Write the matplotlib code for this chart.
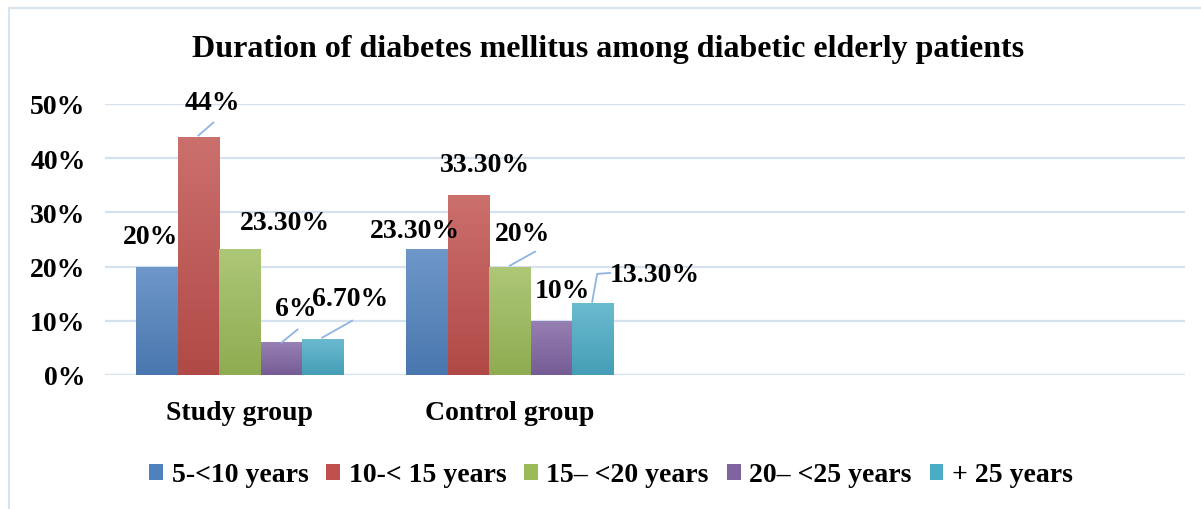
import numpy as np
import matplotlib.pyplot as plt
import matplotlib.transforms as mtransforms
from matplotlib.colors import to_rgb, LinearSegmentedColormap
from matplotlib.patches import Rectangle

plt.rcParams['font.family'] = ['Liberation Serif', 'DejaVu Serif']
plt.rcParams['font.weight'] = 'bold'

title = 'Duration of diabetes mellitus among diabetic elderly patients'
groups = ['Study group', 'Control group', '', '']
series = ['5-<10 years', '10-< 15 years', '15\u2013 <20 years', '20\u2013 <25 years', '+ 25 years']
colors = ['#4F81BD', '#C0504D', '#9BBB59', '#8064A2', '#4BACC6']
study = [0.20, 0.44, 0.233, 0.06, 0.067]
control = [0.233, 0.333, 0.20, 0.10, 0.133]
study_labels = ['20%', '44%', '23.30%', '6%', '6.70%']
control_labels = ['23.30%', '33.30%', '20%', '10%', '13.30%']

# label offsets in pixels from bar top (dx, dy), leader points in pixels
study_off = [(-6, 30), (14, 34), (45, 26), (14, 34), (27, 40)]
control_off = [(-12, 18), (17, 30), (13, 33), (11, 30), (62, 28)]
study_lead = [None, [(0, 1), (15, 14)], None, [(0, 0), (16, 13)], [(-1, 1), (29, 18)]]
control_lead = [None, None, [(0, 1), (25, 15)], None, [(-1, 1), (4, 29), (17, 30)]]

FS = 20
grid_c = '#D5E1EF'
lead_c = '#8EB4E3'

fig = plt.figure(figsize=(12.01, 5.10), dpi=100)
fig.patches.append(Rectangle((9 / 1201, -0.1), 1.5, 1.1 - 9 / 510, transform=fig.transFigure,
                             fill=False, edgecolor='#D9E4F2', lw=1.5))
ax = fig.add_axes([105 / 1201, 134 / 510, 1080 / 1201, 271 / 510])

x = np.arange(len(groups))
w = 0.154
bars = []
for i, s in enumerate(series):
    hs = [study[i], control[i], 0, 0]
    b = ax.bar(x + (i - 2) * w, hs, w, color=colors[i], label=s, zorder=2)
    bars.append(b)

# vertical gradient fill for each bar, lighter at the top
def shade(c, f):
    r = np.array(to_rgb(c))
    return tuple(r + (1 - r) * f) if f > 0 else tuple(r * (1 + f))

for i, b in enumerate(bars):
    cmap = LinearSegmentedColormap.from_list('g', [shade(colors[i], -0.08), shade(colors[i], 0.18)])
    for p in b.patches[:2]:
        x0, y0 = p.get_x(), p.get_y()
        x1, y1 = x0 + p.get_width(), y0 + p.get_height()
        im = ax.imshow(np.linspace(0, 1, 100).reshape(-1, 1), cmap=cmap, origin='lower',
                       extent=[x0, x1, y0, y1], aspect='auto', zorder=2.5)
        im.set_clip_path(p)
ax.set_xlim(-0.5, 3.5)
ax.set_ylim(0, 0.5)

ax.set_yticks(np.arange(0, 0.51, 0.1))
ax.set_yticklabels(['%d%%' % (v * 100) for v in np.arange(0, 0.51, 0.1) + 1e-9], fontsize=FS)
ax.set_xticks([0, 1])
ax.set_xticklabels(groups[:2], fontsize=FS)
ax.tick_params(length=0, axis='y', pad=14)
ax.tick_params(length=0, axis='x', pad=18)
ax.grid(axis='y', color=grid_c, lw=1.6, zorder=0)
for sp in ax.spines.values():
    sp.set_visible(False)

for gi, (vals, labs, offs, leads) in enumerate([(study, study_labels, study_off, study_lead),
                                                 (control, control_labels, control_off, control_lead)]):
    for i in range(5):
        xb = gi + (i - 2) * w
        ax.annotate(labs[i], (xb, vals[i]), xytext=offs[i], textcoords='offset pixels',
                    ha='center', va='center', fontsize=FS, zorder=5)
        if leads[i]:
            px, py = ax.transData.transform((xb, vals[i]))
            xs = [px + a for a, _ in leads[i]]
            ys = [py + c for _, c in leads[i]]
            ax.plot(xs, ys, color=lead_c, lw=1.3, transform=mtransforms.IdentityTransform(),
                    clip_on=False, zorder=4)

fig.text(608 / 1201, 1 - 50 / 510, title, ha='center', va='center', fontsize=23)
fig.legend(handles=[b for b in bars], labels=series, loc='center', bbox_to_anchor=(611 / 1201, 1 - 476 / 510),
           ncol=5, frameon=False, fontsize=FS, handlelength=0.5, handleheight=0.5,
           handletextpad=0.3, columnspacing=0.65)

fig.savefig('out.png', dpi=100)
